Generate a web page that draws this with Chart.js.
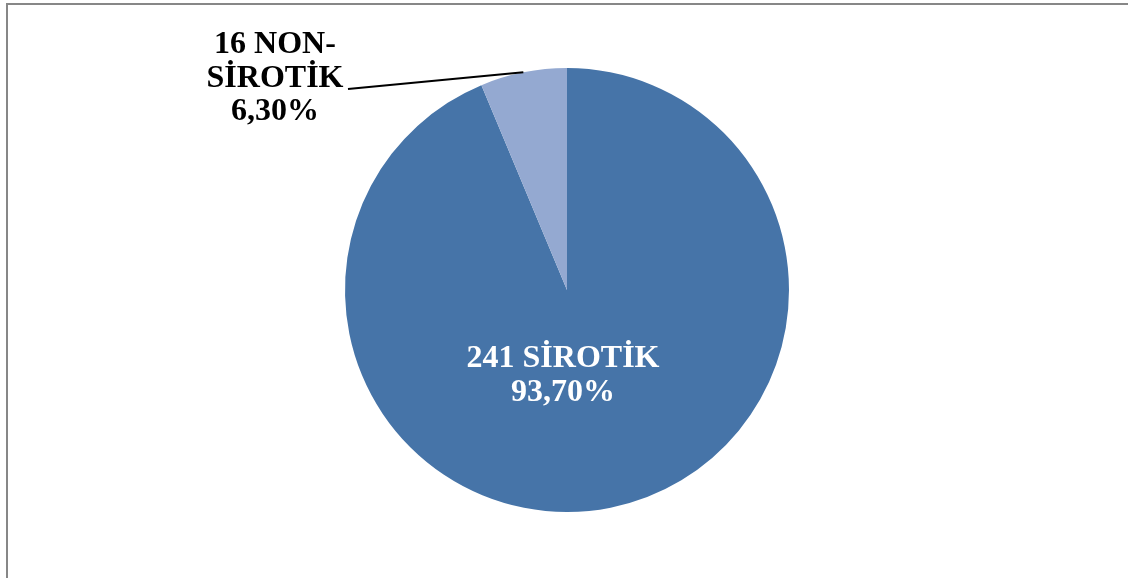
<!DOCTYPE html>
<html>
<head>
<meta charset="utf-8">
<script src="https://cdn.jsdelivr.net/npm/chart.js@4/dist/chart.umd.min.js"></script>
<style>
  html, body { margin: 0; padding: 0; background: #fff; }
  #wrap { position: relative; width: 1128px; height: 578px; overflow: hidden; }
  #frame {
    position: absolute; left: 6px; top: 3px; right: -4px; bottom: -4px;
    border-left: 2px solid #878787; border-top: 2px solid #878787;
  }
  canvas { position: absolute; left: 0; top: 0; }
</style>
</head>
<body>
<div id="wrap">
  <div id="frame"></div>
  <canvas id="pieChart" width="1128" height="578"></canvas>
</div>
<script>
const categories = ["SİROTİK", "NON-SİROTİK"];
const counts = [241, 16];
const percents = [93.7, 6.3];
const colors = ["#4674A8", "#94A9D1"];

const fontSpec = "bold 32px 'Liberation Serif', 'Times New Roman', serif";
const lineH = 33.5;

function pctText(v) {
  return v.toFixed(2).replace(".", ",") + "%";
}

// labels: the big slice inside in white, the small one outside with a leader line
const sliceLabels = {
  id: "sliceLabels",
  afterDatasetsDraw(chart) {
    const ctx = chart.ctx;
    const arcs = chart.getDatasetMeta(0).data;
    ctx.save();
    ctx.font = fontSpec;
    ctx.textAlign = "center";
    ctx.textBaseline = "alphabetic";

    // inside label
    const big = arcs[0];
    const bx = big.x - 4, by = big.y + 77;
    ctx.fillStyle = "#ffffff";
    ctx.fillText(counts[0] + " " + categories[0], bx, by);
    ctx.fillText(pctText(percents[0]), bx, by + lineH);

    // outside label
    const small = arcs[1];
    const mid = (small.startAngle + small.endAngle) / 2;
    const ex = small.x + Math.cos(mid) * small.outerRadius;
    const ey = small.y + Math.sin(mid) * small.outerRadius;
    const tx = 275, ty = 53;
    ctx.strokeStyle = "#000000";
    ctx.lineWidth = 2;
    ctx.beginPath();
    ctx.moveTo(ex, ey);
    ctx.lineTo(348, 89);
    ctx.stroke();
    ctx.fillStyle = "#000000";
    const parts = categories[1].split("-");
    ctx.fillText(counts[1] + " " + parts[0] + "-", tx, ty);
    ctx.fillText(parts[1], tx, ty + lineH);
    ctx.fillText(pctText(percents[1]), tx, ty + lineH * 2);
    ctx.restore();
  }
};

new Chart(document.getElementById("pieChart"), {
  type: "pie",
  data: {
    labels: categories,
    datasets: [{
      data: percents,
      backgroundColor: colors,
      borderWidth: 0
    }]
  },
  options: {
    responsive: false,
    animation: false,
    layout: { padding: { left: 6, right: 0, top: 68, bottom: 66 } },
    plugins: {
      legend: { display: false },
      tooltip: { enabled: false }
    }
  },
  plugins: [sliceLabels]
});
</script>
</body>
</html>
